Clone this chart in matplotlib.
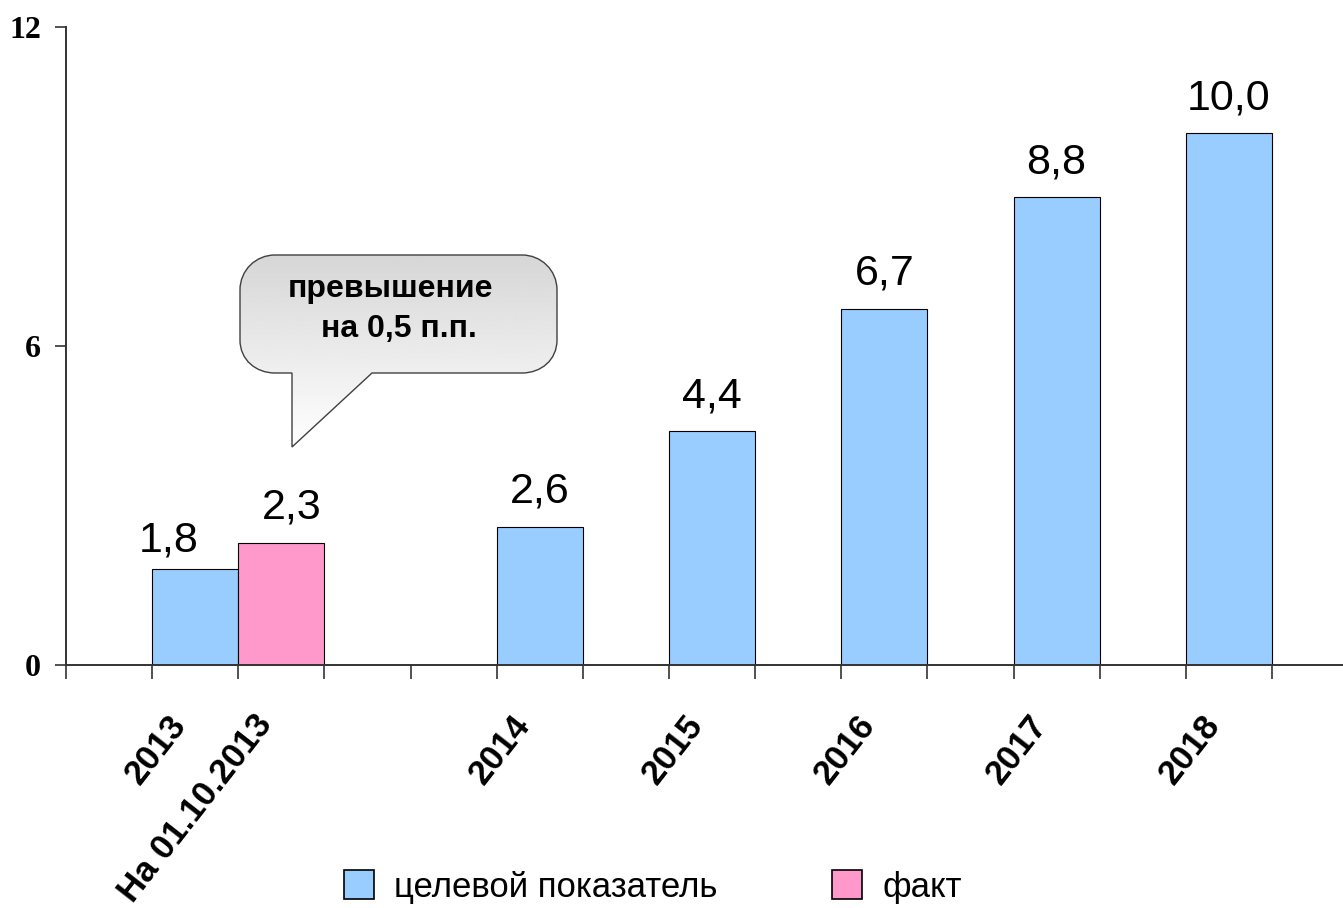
import numpy as np
import matplotlib.pyplot as plt
from matplotlib.path import Path
from matplotlib.patches import PathPatch, Patch
from matplotlib.transforms import ScaledTranslation

# данные
labels = ["2013", "На 01.10.2013", "2014", "2015", "2016", "2017", "2018"]
values = [1.8, 2.3, 2.6, 4.4, 6.7, 8.8, 10.0]
series = ["целевой показатель", "факт", "целевой показатель", "целевой показатель",
          "целевой показатель", "целевой показатель", "целевой показатель"]
legend_names = ["целевой показатель", "факт"]

# раскладка: номер ячейки на оси для каждого столбца
slot = [1, 2, 5, 7, 9, 11, 13]
n_slots = 15
# сдвиг подписей значений (пиксели), первые две раздвинуты вручную
lab_dx = [-27, 10, 0, 0, 0, 0, 0]
lab_dy = [-6, 0, 0, 0, 0, 0, 0]
colors = {"целевой показатель": "#99CCFF", "факт": "#FF99CC"}

plt.rcParams['font.family'] = ['Liberation Sans', 'DejaVu Sans']

W, H = 1343, 908
fig = plt.figure(figsize=(W / 100, H / 100), dpi=100)
ax = fig.add_axes([66 / W, (H - 665) / H, n_slots * 86.14 / W, 638 / H])

x = np.array(slot) + 0.5
ax.bar(x, values, width=1.0, color=[colors[s] for s in series],
       edgecolor="black", linewidth=0.8, zorder=2)
for xi, v, dx, dy in zip(x, values, lab_dx, lab_dy):
    ax.annotate(f"{v:.1f}".replace(".", ","), (xi, v), xytext=(dx, 24 + dy),
                textcoords="offset pixels", ha="center", va="baseline", fontsize=31)

ax.set_xlim(0, n_slots)
ax.set_ylim(0, 12)
ax.set_yticks([0, 6, 12])
ax.set_yticklabels(["0", "6", "12"], family="Liberation Serif", fontweight="bold", fontsize=23)
ax.tick_params(axis="y", length=8, width=1.2, color="#333333", pad=10)

ax.set_xticks(x)
ax.set_xticklabels(labels, rotation=52, ha="right", va="baseline", rotation_mode="anchor",
                   fontweight="bold", fontsize=25)
ax.tick_params(axis="x", which="major", length=0, pad=43)
shift = ScaledTranslation(-8 / 100, 0, fig.dpi_scale_trans)
for lab in ax.get_xticklabels():
    lab.set_transform(lab.get_transform() + shift)
ax.set_xticks(np.arange(0, n_slots + 1), minor=True)
ax.tick_params(axis="x", which="minor", length=10, width=1.2, color="#333333")

for s in ["top", "right"]:
    ax.spines[s].set_visible(False)
for s in ["left", "bottom"]:
    ax.spines[s].set_linewidth(1.4)
    ax.spines[s].set_color("#333333")

# выноска
ov = fig.add_axes([0, 0, 1, 1], zorder=5)
ov.axis("off")
verts = [(275, 255), (522, 255),
         (541, 255), (557, 270), (557, 290),
         (557, 340),
         (557, 360), (541, 373), (522, 373),
         (372, 373), (292, 447), (292, 373), (275, 373),
         (256, 373), (240, 360), (240, 340),
         (240, 290),
         (240, 270), (256, 255), (275, 255),
         (275, 255)]
codes = [Path.MOVETO, Path.LINETO,
         Path.CURVE4, Path.CURVE4, Path.CURVE4,
         Path.LINETO,
         Path.CURVE4, Path.CURVE4, Path.CURVE4,
         Path.LINETO, Path.LINETO, Path.LINETO, Path.LINETO,
         Path.CURVE4, Path.CURVE4, Path.CURVE4,
         Path.LINETO,
         Path.CURVE4, Path.CURVE4, Path.CURVE4,
         Path.CLOSEPOLY]
patch = PathPatch(Path(verts, codes), facecolor="none", edgecolor="#404040", linewidth=1.0, zorder=3)
ov.add_patch(patch)
grad = np.linspace(0.84, 1.0, 256).reshape(-1, 1)
im = ov.imshow(grad, cmap="gray", vmin=0, vmax=1, extent=(240, 557, 447, 255),
               aspect="auto", zorder=2)
im.set_clip_path(patch)
ov.set_xlim(0, W)
ov.set_ylim(H, 0)
ov.text(390, 289, "превышение", ha="center", va="center", fontsize=23, fontweight="bold")
ov.text(399, 329, "на 0,5 п.п.", ha="center", va="center", fontsize=23, fontweight="bold")

handles = [Patch(facecolor=colors[n], edgecolor="black", linewidth=1.2) for n in legend_names]
fig.legend(handles, legend_names, loc="center", bbox_to_anchor=(653 / W, 1 - 887 / H),
           ncol=2, frameon=False, fontsize=25, handlelength=0.87, handleheight=0.87,
           handletextpad=0.58, columnspacing=3.3)

fig.savefig("out.png", dpi=100)
